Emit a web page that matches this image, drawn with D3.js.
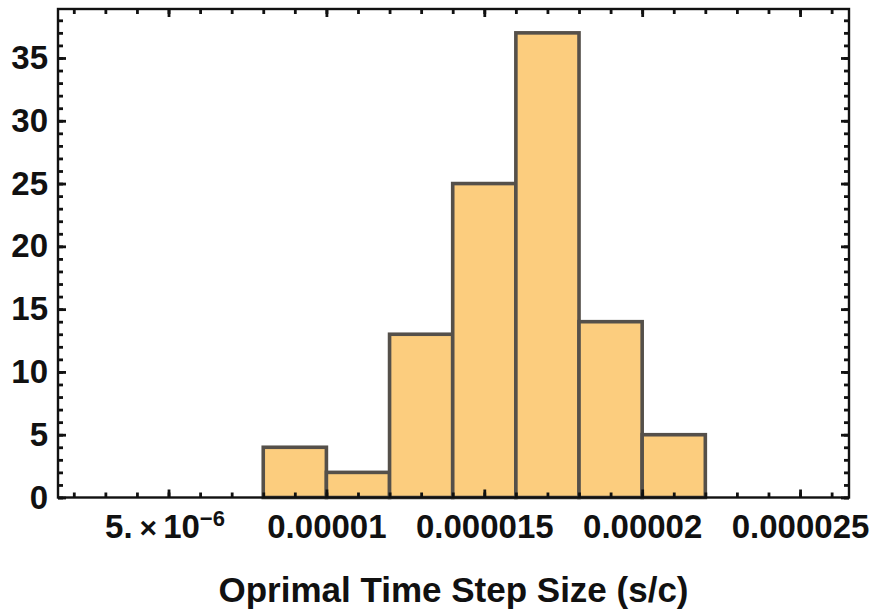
<!DOCTYPE html>
<html>
  <head>
    <meta charset="utf-8">
    <title>Histogram</title>
    <script src="https://d3js.org/d3.v7.min.js"></script>
    <style>
      body { margin: 0; background: #fff; }
      svg { display: block; font-family: "Liberation Sans", Arial, sans-serif; }
      .tick line { stroke: #111; stroke-width: 2.8; }
      .tick text { fill: #111; font-weight: bold; font-size: 33px; }
      .domain { display: none; }
    </style>
  </head>
  <body>
    <script>
    // histogram bins (left edges + last right edge) and counts
    const binEdges = [8e-6, 1e-5, 1.2e-5, 1.4e-5, 1.6e-5, 1.8e-5, 2e-5, 2.2e-5]
    const counts = [4, 2, 13, 25, 37, 14, 5]

    const xTickValues = [5e-6, 1e-5, 1.5e-5, 2e-5, 2.5e-5]
    const xTickLabels = ["5.×10^-6", "0.00001", "0.000015", "0.00002", "0.000025"]
    const xMinorValues = d3.range(2, 27).map(function(d){ return d * 1e-6 })

    const yTickValues = [0, 5, 10, 15, 20, 25, 30, 35]
    const yMinorValues = d3.range(0, 39)

    const xTitle = "Oprimal Time Step Size (s/c)"

    var width = 875, height = 610
    var frame = { left: 58, top: 9, right: 849, bottom: 497.5 }

    var svg = d3.select("body").append("svg")
                .attr("width", width)
                .attr("height", height)

    var x = d3.scaleLinear()
              .domain([1.5e-6, 2.655e-5])
              .range([frame.left, frame.right])

    var y = d3.scaleLinear()
              .domain([0, 38.9])
              .range([frame.bottom, frame.top])

    var bins = counts.map(function(c, i){
      return { x0: binEdges[i], x1: binEdges[i + 1], n: c }
    })

    // bars
    svg.append("g").selectAll("rect")
       .data(bins)
       .enter()
       .append("rect")
       .attr("x", function(d){ return x(d.x0) })
       .attr("y", function(d){ return y(d.n) })
       .attr("width", function(d){ return x(d.x1) - x(d.x0) })
       .attr("height", function(d){ return y(0) - y(d.n) })
       .attr("fill", "#fccd7e")
       .attr("stroke", "#55504a")
       .attr("stroke-width", 3.6)

    // minor ticks, all four sides
    svg.append("g").attr("transform", "translate(0," + frame.bottom + ")")
       .call(d3.axisBottom(x).tickValues(xMinorValues).tickSize(-5).tickFormat(""))
    svg.append("g").attr("transform", "translate(0," + frame.top + ")")
       .call(d3.axisTop(x).tickValues(xMinorValues).tickSize(-5).tickFormat(""))
    svg.append("g").attr("transform", "translate(" + frame.left + ",0)")
       .call(d3.axisLeft(y).tickValues(yMinorValues).tickSize(-5).tickFormat(""))
    svg.append("g").attr("transform", "translate(" + frame.right + ",0)")
       .call(d3.axisRight(y).tickValues(yMinorValues).tickSize(-5).tickFormat(""))

    // major ticks
    var xAxis = svg.append("g").attr("class", "x-axis")
       .attr("transform", "translate(0," + frame.bottom + ")")
       .call(d3.axisBottom(x).tickValues(xTickValues).tickSize(-8).tickPadding(17)
               .tickFormat(function(d, i){ return xTickLabels[i] }))
    svg.append("g").attr("transform", "translate(0," + frame.top + ")")
       .call(d3.axisTop(x).tickValues(xTickValues).tickSize(-8).tickFormat(""))
    svg.append("g").attr("class", "y-axis")
       .attr("transform", "translate(" + frame.left + ",0)")
       .call(d3.axisLeft(y).tickValues(yTickValues).tickSize(-8).tickPadding(10))
    svg.append("g").attr("transform", "translate(" + frame.right + ",0)")
       .call(d3.axisRight(y).tickValues(yTickValues).tickSize(-8).tickFormat(""))

    // scientific label: 5.×10^-6
    xAxis.selectAll(".tick text").each(function(d, i){
      var lab = xTickLabels[i]
      if (lab.indexOf("^") < 0) return
      var parts = lab.split("×")
      var base = parts[1].split("^")
      var t = d3.select(this).text("").attr("dx", -4)
      t.append("tspan").text(parts[0])
      t.append("tspan").attr("dx", 7).style("font-size", "30px").text("×")
      t.append("tspan").attr("dx", 6).text(base[0])
      t.append("tspan").attr("dy", -12).style("font-size", "22px").text(base[1].replace("-", "\u2212"))
    })

    // frame
    svg.append("rect")
       .attr("x", frame.left)
       .attr("y", frame.top)
       .attr("width", frame.right - frame.left)
       .attr("height", frame.bottom - frame.top)
       .attr("fill", "none")
       .attr("stroke", "#111")
       .attr("stroke-width", 2.4)

    // x title
    svg.append("text")
       .attr("x", (frame.left + frame.right) / 2)
       .attr("y", 602)
       .attr("text-anchor", "middle")
       .attr("font-size", "35px")
       .attr("font-weight", "bold")
       .attr("fill", "#111")
       .text(xTitle)
    </script>
  </body>
</html>
